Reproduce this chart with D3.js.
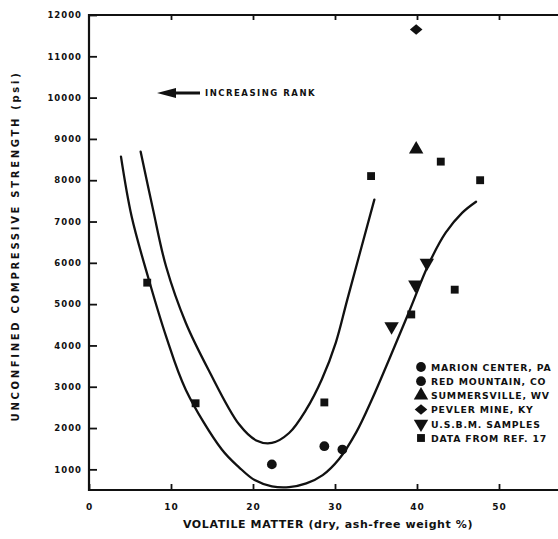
<!DOCTYPE html>
<html lang="en">
<head>
  <meta charset="utf-8">
  <title>Unconfined compressive strength</title>
  <style>
    body { margin: 0; background: #fff; }
    text { font-family: "DejaVu Sans", sans-serif; font-weight: bold; fill: #111; }
  </style>
</head>
<body>
  <script src="https://cdn.jsdelivr.net/npm/d3@7"></script>
  <script>
    var width = 558;
    var height = 539;

    // ticks
    var xTicks = [0, 10, 20, 30, 40, 50];
    var yTicks = [1000, 2000, 3000, 4000, 5000, 6000, 7000, 8000, 9000, 10000, 11000, 12000];

    // sample groups (volatile matter %, psi)
    var marionCenter = [[22.3, 1120]];
    var redMountain = [[28.7, 1560], [30.9, 1480]];
    var summersville = [[39.9, 8750]];
    var pevlerMine = [[39.9, 11650]];
    var usbmSamples = [[36.9, 4460], [39.8, 5470], [41.2, 6000]];
    var ref17 = [[7.1, 5520], [13.0, 2600], [28.7, 2620], [34.4, 8100], [39.3, 4750],
                 [42.9, 8450], [44.6, 5350], [47.7, 8000]];

    // fitted envelope curves
    var outerCurve = [[3.9, 8570], [5.2, 7120], [7.3, 5590], [9.4, 4220], [11.8, 2930],
                      [16.2, 1480], [18.3, 1050], [20.2, 740], [22.3, 590],
                      [24.4, 570], [26.5, 660], [28.5, 860], [30.5, 1250], [32.6, 1900],
                      [34.5, 2690], [36.6, 3660], [39.0, 4800], [41.5, 6000],
                      [43.5, 6730], [45.5, 7210], [47.2, 7480]];
    var innerCurve = [[6.3, 8690], [7.8, 7300], [9.4, 5910], [11.8, 4550], [14.6, 3400],
                      [18.3, 2090], [20.4, 1700], [22.3, 1640], [24.4, 1880],
                      [26.5, 2450], [28.4, 3180], [30.1, 4070], [31.5, 5110], [34.8, 7530]];

    var legendLabels = ["MARION CENTER, PA", "RED MOUNTAIN, CO", "SUMMERSVILLE, WV",
                        "PEVLER MINE, KY", "U.S.B.M. SAMPLES", "DATA FROM REF. 17"];
    var legendShapes = ["circle", "circle", "triangleUp", "diamond", "triangleDown", "square"];

    var svg = d3.select("body").append("svg")
      .attr("width", width)
      .attr("height", height);

    var xScale = d3.scaleLinear().domain([0, 60]).range([89, 581]);
    var yScale = d3.scaleLinear().domain([500, 12000]).range([490, 15]);

    // frame
    var x0 = xScale(0), x1 = xScale(60), yTop = yScale(12000), yBot = yScale(500);
    svg.append("path")
      .attr("d", "M" + x1 + "," + yTop + "H" + x0 + "V" + yBot + "H" + x1)
      .attr("fill", "none").attr("stroke", "#111").attr("stroke-width", 2.2);

    var xAxis = d3.axisBottom(xScale).tickValues(xTicks).tickSize(-6).tickPadding(14);
    var gx = svg.append("g")
      .attr("transform", "translate(0," + yBot + ")")
      .call(xAxis);
    gx.select(".domain").remove();
    gx.selectAll(".tick line").attr("stroke", "#111").attr("stroke-width", 1.8);
    gx.selectAll(".tick text").attr("font-size", 9).style("letter-spacing", "1px");

    var gxt = svg.append("g")
      .attr("transform", "translate(0," + yTop + ")")
      .call(d3.axisTop(xScale).tickValues(xTicks.slice(1)).tickSize(-5).tickFormat(""));
    gxt.select(".domain").remove();
    gxt.selectAll(".tick line").attr("stroke", "#111").attr("stroke-width", 1.8);

    var yAxis = d3.axisLeft(yScale).tickValues(yTicks).tickSize(-8).tickPadding(7)
      .tickFormat(d3.format("d"));
    var gy = svg.append("g")
      .attr("transform", "translate(" + x0 + ",0)")
      .call(yAxis);
    gy.select(".domain").remove();
    gy.selectAll(".tick line").attr("stroke", "#111").attr("stroke-width", 1.8);
    gy.selectAll(".tick text").attr("font-size", 8.5).style("letter-spacing", "1px");

    // axis titles
    svg.append("text")
      .attr("transform", "translate(19,246) rotate(-90)")
      .attr("text-anchor", "middle")
      .attr("font-size", 10)
      .style("letter-spacing", "2.7px")
      .text("UNCONFINED COMPRESSIVE STRENGTH (psi)");

    svg.append("text")
      .attr("x", 328).attr("y", 528)
      .attr("text-anchor", "middle")
      .attr("font-size", 11)
      .style("letter-spacing", "0.6px")
      .text("VOLATILE MATTER (dry, ash-free weight %)");

    // curves
    var line = d3.line()
      .x(function(d) { return xScale(d[0]); })
      .y(function(d) { return yScale(d[1]); })
      .curve(d3.curveCatmullRom.alpha(0.5));

    [outerCurve, innerCurve].forEach(function(c) {
      svg.append("path")
        .attr("d", line(c))
        .attr("fill", "none")
        .attr("stroke", "#111")
        .attr("stroke-width", 2.3)
        .attr("stroke-linecap", "round");
    });

    // markers
    function symbolFor(name) {
      if (name == "circle") return d3.symbol(d3.symbolCircle, 75);
      if (name == "square") return d3.symbol(d3.symbolSquare, 62);
      if (name == "diamond") return d3.symbol(d3.symbolSquare, 55);
      return d3.symbol(d3.symbolTriangle, 90);
    }
    function rot(name) {
      if (name == "triangleDown") return " rotate(180)";
      if (name == "diamond") return " scale(1.2,1) rotate(45)";
      return "";
    }

    var groups = [marionCenter, redMountain, summersville, pevlerMine, usbmSamples, ref17];
    groups.forEach(function(g, i) {
      svg.selectAll(null)
        .data(g)
        .enter()
        .append("path")
        .attr("d", symbolFor(legendShapes[i]))
        .attr("transform", function(d) {
          return "translate(" + xScale(d[0]) + "," + yScale(d[1]) + ")" + rot(legendShapes[i]);
        })
        .attr("fill", "#111");
    });

    // legend
    var legend = svg.append("g").attr("transform", "translate(421,367)");
    var rows = legend.selectAll("g")
      .data(legendLabels)
      .enter()
      .append("g")
      .attr("transform", function(d, i) { return "translate(0," + (i * 14.2) + ")"; });
    rows.append("path")
      .attr("d", function(d, i) { return symbolFor(legendShapes[i])(); })
      .attr("transform", function(d, i) { return rot(legendShapes[i]); })
      .attr("fill", "#111");
    rows.append("text")
      .attr("x", 10).attr("y", 3.8)
      .attr("font-size", 9.3)
      .style("letter-spacing", "0.8px")
      .text(function(d) { return d; });

    // rank arrow
    svg.append("path")
      .attr("d", "M157,93 L176,88 L176,91.5 L200,91.5 L200,94.5 L176,94.5 L176,98 Z")
      .attr("fill", "#111");
    svg.append("text")
      .attr("x", 205).attr("y", 96)
      .attr("font-size", 8.5)
      .style("letter-spacing", "1.5px")
      .text("INCREASING RANK");
  </script>
</body>
</html>
